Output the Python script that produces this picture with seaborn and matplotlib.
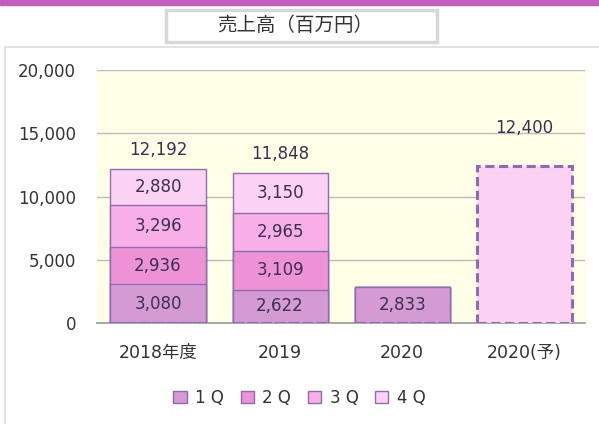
import numpy as np
import pandas as pd
import matplotlib
matplotlib.use("Agg")
import matplotlib.pyplot as plt
import seaborn as sns
from matplotlib.patches import Rectangle, Patch

# Data
years = ['2018年度', '2019', '2020', '2020(予)']
q1 = [3080, 2622, 2833, 0]
q2 = [2936, 3109, 0, 0]
q3 = [3296, 2965, 0, 0]
q4 = [2880, 3150, 0, 0]
totals = [12192, 11848, None, 12400]
forecast = [0, 0, 0, 12400]
quarters = ['1Q', '2Q', '3Q', '4Q']

colors = ['#D49AD4', '#EE92D8', '#F8AEE6', '#FBD2F3']
edge = '#8E6CB0'

sns.set_theme(style='white')
plt.rcParams['font.family'] = ['DejaVu Sans', 'Noto Sans CJK JP']

df = pd.DataFrame({'year': years, '1Q': q1, '2Q': q2, '3Q': q3, '4Q': q4, 'fc': forecast})
cum = df[quarters].cumsum(axis=1)

fig = plt.figure(figsize=(5.99, 4.24), dpi=100)
# outer frame and top band
fig.patches.append(Rectangle((0, 0.988), 1, 0.012, transform=fig.transFigure,
                             color='#BE5EBE', zorder=-2))
fig.patches.append(Rectangle((0.009, -0.01), 1.0, 0.898, transform=fig.transFigure,
                             facecolor='white', edgecolor='#DDDDDD', lw=1.2, zorder=-2))
# title box
fig.patches.append(Rectangle((0.277, 0.901), 0.453, 0.0755, transform=fig.transFigure,
                             facecolor='white', edgecolor='#D8D8D8', lw=2.5, zorder=-1))
ax = fig.add_axes([0.162, 0.238, 0.815, 0.597])
ax.set_zorder(2)
ax.set_facecolor('#FFFFE8')

# stacked bars drawn from top layer down
for i in range(3, -1, -1):
    sns.barplot(x=df['year'], y=cum[quarters[i]], color=colors[i], width=0.78,
                edgecolor=edge, linewidth=1.0, saturation=1, ax=ax, zorder=3)
# forecast bar
n0 = len(ax.patches)
sns.barplot(x=df['year'], y=df['fc'], color='#FBD2F3', width=0.78,
            edgecolor=edge, linewidth=2.2, saturation=1, ax=ax, zorder=3)
for p in ax.patches[n0:]:
    p.set_linestyle((0, (3, 1.5)))

# segment labels
for xi in range(len(years)):
    base = 0
    for qi, q in enumerate(quarters):
        v = df[q][xi]
        if v > 0:
            ax.text(xi, base + v / 2, f'{v:,}', ha='center', va='center',
                    fontsize=12, color='#3C3050', zorder=5)
        base += v
    if totals[xi]:
        off = 2300 if forecast[xi] else 800
        ax.text(xi, totals[xi] + off, f'{totals[xi]:,}', ha='center', va='bottom',
                fontsize=12, color='#3C3050', zorder=5)

ax.set_ylim(0, 20000)
ax.set_xlim(-0.5, 3.5)
ax.set_yticks([0, 5000, 10000, 15000, 20000])
ax.set_yticklabels(['{:,}'.format(v) for v in [0, 5000, 10000, 15000, 20000]])
ax.yaxis.grid(True, color='#BBBBBB', lw=1)
ax.set_axisbelow(True)
ax.set_xlabel('')
ax.set_ylabel('')
for s in ['top', 'right', 'left']:
    ax.spines[s].set_visible(False)
ax.spines['bottom'].set_color('#999999')
ax.spines['bottom'].set_linewidth(1.2)
ax.tick_params(axis='y', length=0, labelsize=12, colors='#333333', pad=15)
ax.tick_params(axis='x', length=0, labelsize=12.5, colors='#333333', pad=15)

fig.text(0.4925, 0.941, '売上高（百万円）', ha='center', va='center', fontsize=14,
         color='#333333', family=['Noto Sans CJK JP', 'DejaVu Sans'])

handles = [Patch(facecolor=c, edgecolor=edge, lw=1) for c in colors]
fig.legend(handles, ['1 Q', '2 Q', '3 Q', '4 Q'], loc='center', ncol=4,
           bbox_to_anchor=(0.5, 0.062), frameon=False, fontsize=12,
           handlelength=0.8, handleheight=0.8, handletextpad=0.5, columnspacing=1.0,
           labelcolor='#333333')

fig.savefig('out.png', dpi=100)
